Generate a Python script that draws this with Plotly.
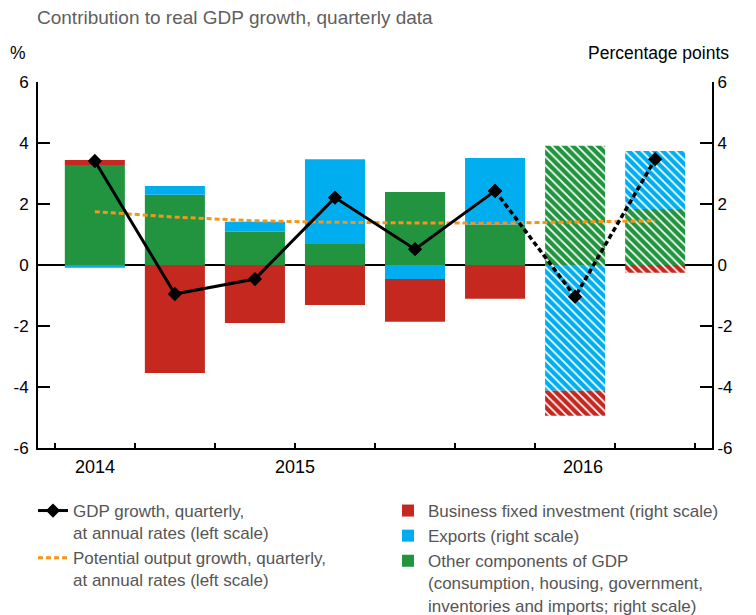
import plotly.graph_objects as go

# ---------------- data ----------------
quarters = ["2014 Q4", "2015 Q1", "2015 Q2", "2015 Q3", "2015 Q4", "2016 Q1", "2016 Q2", "2016 Q3"]
estimated = [False, False, False, False, False, False, True, True]

other_components = [3.28, 2.30, 1.09, 0.69, 2.39, 1.33, 3.91, 1.84]
exports = [-0.09, 0.29, 0.33, 2.78, -0.46, 2.18, -4.12, 1.90]
business_investment = [0.16, -3.54, -1.90, -1.31, -1.40, -1.11, -0.82, -0.25]

gdp_growth = [3.41, -0.95, -0.46, 2.21, 0.52, 2.43, -1.04, 3.47]
potential_growth = [1.75, 1.57, 1.45, 1.40, 1.38, 1.37, 1.41, 1.45]

year_labels = ["2014", "2015", "2016"]
year_label_pos = [0.0, 2.5, 6.1]
year_boundaries = [0.5, 4.5]
quarter_boundaries = [-0.5, 0.5, 1.5, 2.5, 3.5, 4.5, 5.5, 6.5, 7.5]
y_ticks = [-6, -4, -2, 0, 2, 4, 6]
y_tick_text = ["-6", "-4", "-2", "0", "2", "4", "6"]

# ---------------- styling ----------------
FONT = "Liberation Sans, Arial, Helvetica, sans-serif"
RED = "#C4281F"
BLUE = "#00AEEF"
GREEN = "#22943F"
ORANGE = "#F7941D"
GREY_TXT = "#555555"

x = list(range(len(quarters)))
patterns = ["\\" if e else "" for e in estimated]


def bar(values, color, name):
    return go.Bar(
        x=x, y=values, name=name, width=0.75,
        marker=dict(color=color, line=dict(width=0),
                    pattern=dict(shape=patterns, fgcolor="white", bgcolor=color,
                                 fgopacity=1, size=6, solidity=0.28, fillmode="overlay")),
        xaxis="x", yaxis="y", legend="legend2",
    )


fig = go.Figure()
fig.add_trace(bar(other_components, GREEN,
                  "Other components of GDP<br>(consumption, housing, government,<br>inventories and imports; right scale)"))
fig.add_trace(bar(exports, BLUE, "Exports (right scale)"))
fig.add_trace(bar(business_investment, RED, "Business fixed investment (right scale)"))

fig.add_trace(go.Scatter(
    x=x, y=potential_growth, mode="lines",
    line=dict(color=ORANGE, width=3, dash="5px,3px"),
    name="Potential output growth, quarterly,<br>at annual rates (left scale)",
    xaxis="x", yaxis="y2", legend="legend", legendrank=2,
))
split = 5
fig.add_trace(go.Scatter(
    x=x[split:], y=gdp_growth[split:], mode="lines+markers",
    line=dict(color="black", width=3.5, dash="5px,3px"),
    marker=dict(symbol="diamond", size=11, color="black"),
    showlegend=False, xaxis="x", yaxis="y2",
))
fig.add_trace(go.Scatter(
    x=x[:split + 1], y=gdp_growth[:split + 1], mode="lines+markers",
    line=dict(color="black", width=3),
    marker=dict(symbol="diamond", size=11, color="black"),
    name="GDP growth, quarterly,<br>at annual rates (left scale)",
    xaxis="x", yaxis="y2", legend="legend", legendrank=1,
))

xr = [-0.71, 7.71]
yr = [-6, 6]

fig.update_layout(
    width=756, height=615,
    margin=dict(l=38, r=44, t=82, b=167, autoexpand=False),
    paper_bgcolor="white", plot_bgcolor="white",
    barmode="relative", bargap=0.25,
    font=dict(family=FONT, size=16, color="black"),
    showlegend=True,
    title=dict(text="Contribution to real GDP growth, quarterly data",
               x=37 / 756, xanchor="left", xref="container",
               y=1 - 17 / 615, yanchor="middle", yref="container",
               font=dict(family=FONT, size=19, color="#606060")),
    xaxis=dict(range=xr, showgrid=False, zeroline=False,
               showline=True, linecolor="black", linewidth=2,
               tickmode="array", tickvals=year_boundaries, ticktext=["", ""],
               ticks="inside", ticklen=10, tickwidth=1.5, tickcolor="black",
               minor=dict(tickmode="array", tickvals=quarter_boundaries,
                          ticks="inside", ticklen=5, tickwidth=1.5, tickcolor="black"),
               fixedrange=True),
    yaxis=dict(range=yr, side="right", showgrid=False,
               zeroline=True, zerolinecolor="black", zerolinewidth=2,
               showline=True, linecolor="black", linewidth=2,
               tickmode="array", tickvals=y_ticks, ticktext=y_tick_text,
               ticks="inside", ticklen=12, tickwidth=1.5, tickcolor="black",
               tickfont=dict(size=17, color="black"), fixedrange=True),
    yaxis2=dict(range=yr, side="left", overlaying="y", showgrid=False, zeroline=False,
                showline=True, linecolor="black", linewidth=2,
                tickmode="array", tickvals=y_ticks, ticktext=y_tick_text,
                ticks="inside", ticklen=12, tickwidth=1.5, tickcolor="black",
                ticklabelstandoff=4,
                tickfont=dict(size=17, color="black"), fixedrange=True),
    legend=dict(xref="container", yref="container", x=33 / 756, y=1 - 493 / 615,
                xanchor="left", yanchor="top", valign="top",
                font=dict(family=FONT, size=17, color=GREY_TXT),
                bgcolor="rgba(0,0,0,0)", tracegroupgap=0),
    legend2=dict(xref="container", yref="container", x=388 / 756, y=1 - 493 / 615,
                 xanchor="left", yanchor="top", valign="top", traceorder="reversed",
                 font=dict(family=FONT, size=17, color=GREY_TXT),
                 bgcolor="rgba(0,0,0,0)", tracegroupgap=0),
    annotations=[
        dict(text="%", xref="paper", yref="paper", x=(18 - 38) / 674, y=(448 - 53) / 366,
             xanchor="center", yanchor="middle", showarrow=False,
             font=dict(family=FONT, size=17.5, color="black")),
        dict(text="Percentage points", xref="paper", yref="paper", x=(731 - 38) / 674,
             y=(448 - 53) / 366, xanchor="right", yanchor="middle", showarrow=False,
             font=dict(family=FONT, size=17.5, color="black")),
    ] + [
        dict(text=lbl, xref="x", yref="paper", x=pos, y=0, yshift=-7,
             xanchor="center", yanchor="top", showarrow=False,
             font=dict(family=FONT, size=18, color="black"))
        for lbl, pos in zip(year_labels, year_label_pos)
    ],
)

fig.write_html("out.html", config={"displayModeBar": False},
               post_script="document.body.style.margin='0px';")
